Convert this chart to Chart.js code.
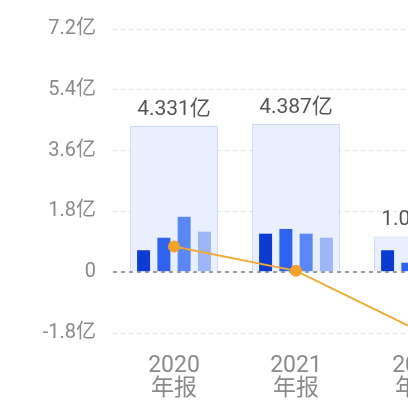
<!DOCTYPE html>
<html>
<head>
<meta charset="utf-8">
<script src="https://cdn.jsdelivr.net/npm/chart.js@4"></script>
<style>
  html, body { margin: 0; padding: 0; background: #fff; overflow: hidden; }
  #wrap { width: 490px; height: 408px; position: relative; }
</style>
</head>
<body>
<div id="wrap"><canvas id="chart"></canvas></div>
<script>
// data (亿)
const years = [["2020", "年报"], ["2021", "年报"], ["2022", "年报"]];
const totals = [4.331, 4.387, 1.057];
const totalLabels = ["4.331亿", "4.387亿", "1.057亿"];
const q1 = [0.65, 1.14, 0.65];
const q2 = [1.02, 1.28, 0.28];
const q3 = [1.64, 1.14, 0];
const q4 = [1.20, 1.02, 0];
const lineValues = [0.76, 0.04, -1.72];
const yTicks = [-1.8, 0, 1.8, 3.6, 5.4, 7.2];
const yTickLabels = ["-1.8亿", "0", "1.8亿", "3.6亿", "5.4亿", "7.2亿"];

const FONT = "Roboto, 'Noto Sans CJK SC', sans-serif";

// label above each total bar
const totalLabelPlugin = {
  id: "totalLabels",
  afterDatasetsDraw(chart) {
    const meta = chart.getDatasetMeta(0);
    const ctx = chart.ctx;
    ctx.save();
    ctx.fillStyle = "#555";
    ctx.font = "21px " + FONT;
    ctx.textAlign = "center";
    ctx.textBaseline = "bottom";
    meta.data.forEach((el, i) => {
      ctx.fillText(totalLabels[i], el.x, el.y - 6);
    });
    ctx.restore();
  }
};

const quarterColors = ["#0b3bd1", "#2f62ef", "#5a87f3", "#9db6f7"];
const quarterData = [q1, q2, q3, q4];

new Chart(document.getElementById("chart"), {
  data: {
    labels: years,
    datasets: [
      {
        type: "bar",
        data: totals,
        grouped: false,
        backgroundColor: "#e9effd",
        borderColor: "#c8d5f0",
        borderWidth: 1,
        categoryPercentage: 1,
        barPercentage: 0.72,
        order: 3
      },
      ...quarterData.map((d, i) => ({
        type: "bar",
        data: d,
        backgroundColor: quarterColors[i],
        categoryPercentage: 0.665,
        barPercentage: 0.64,
        order: 2
      })),
      {
        type: "line",
        data: lineValues,
        borderColor: "#f0aa35",
        borderWidth: 2,
        pointRadius: 5,
        pointBackgroundColor: "#f2a12a",
        pointBorderColor: "#f2a12a",
        tension: 0,
        order: 1
      }
    ]
  },
  options: {
    responsive: true,
    maintainAspectRatio: false,
    animation: false,
    layout: { padding: { top: 18, right: 11, left: 0, bottom: 0 } },
    plugins: { legend: { display: false }, tooltip: { enabled: false } },
    scales: {
      x: {
        offset: true,
        grid: { display: false, drawTicks: false },
        border: { display: false },
        ticks: {
          color: "#8a8a8a",
          font: { family: FONT, size: 23, lineHeight: 1.0 },
          padding: 22,
          maxRotation: 0,
          autoSkip: false
        },
        afterFit(axis) { axis.height = 75; }
      },
      y: {
        min: -1.8,
        max: 7.2,
        z: 1,
        afterBuildTicks(axis) { axis.ticks = yTicks.map(v => ({ value: v })); },
        afterFit(axis) { axis.width = 113; },
        grid: {
          drawTicks: false,
          color: c => (c.tick && c.tick.value === 0 ? "#9a9a9a" : "#e2e2e2"),
          lineWidth: c => (c.tick && c.tick.value === 0 ? 2 : 1)
        },
        border: { display: false, dash: [4, 4] },
        ticks: {
          color: "#8a8a8a",
          font: { family: FONT, size: 20 },
          padding: 17,
          callback: (v, i) => yTickLabels[i]
        }
      }
    }
  },
  plugins: [totalLabelPlugin]
});
</script>
</body>
</html>
